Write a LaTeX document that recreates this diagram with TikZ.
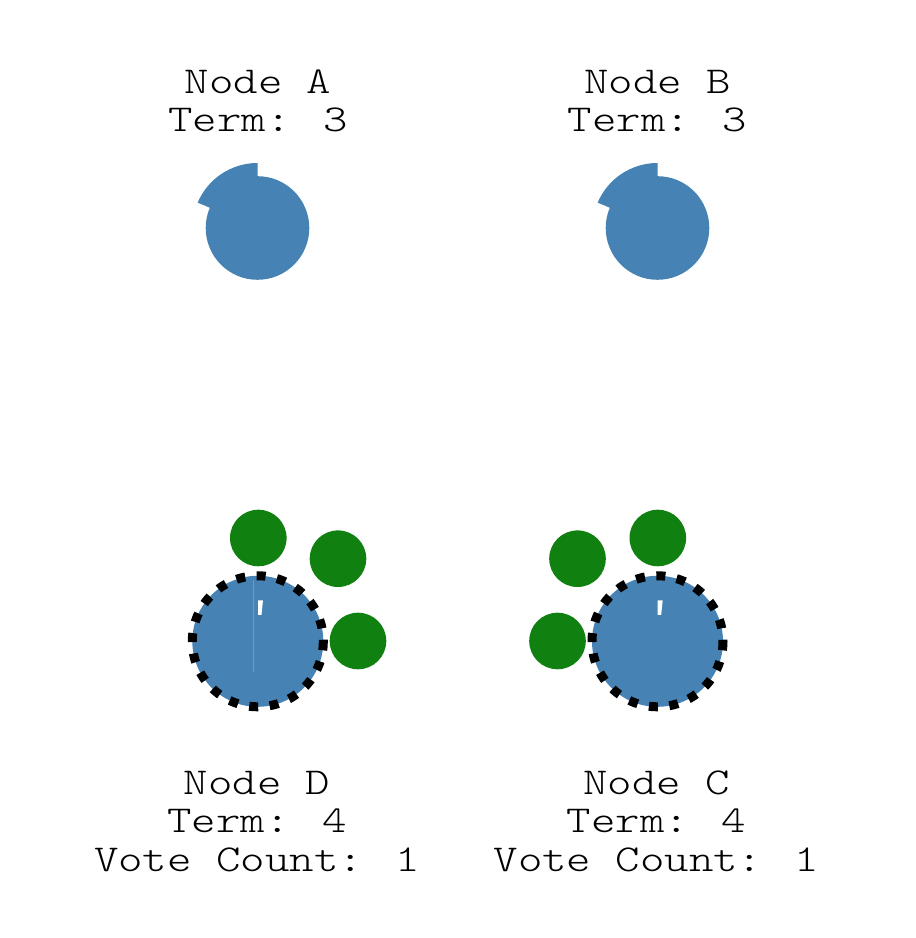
\documentclass[tikz,border=0pt]{standalone}
\usepackage{graphicx}
\usepackage{fontspec}
\newfontfamily\lbllight{Latin Modern Mono Light}
\definecolor{nodeblue}{RGB}{70,130,180}
\definecolor{votegreen}{RGB}{16,128,16}
\definecolor{seam}{RGB}{155,135,185}
\newcommand{\lbltxt}[1]{\scalebox{1.225}[1]{#1}}
\tikzset{
  lbl/.style={anchor=base, inner sep=0pt, font=\lbllight\fontsize{38}{38}\selectfont},
  nodefill/.style={fill=nodeblue},
  vote/.style={fill=votegreen},
  leaderring/.style={draw=black, line width=9pt, dash pattern=on 9pt off 11.5pt},
}
\begin{document}
\begin{tikzpicture}[x=1pt,y=1pt]
\useasboundingbox (0,0) rectangle (916,938);
% centres
\coordinate (A) at (257.5,710);
\coordinate (B) at (657.5,710);
\coordinate (D) at (257.8,296.7);
\coordinate (C) at (657.5,296.7);
% top nodes (followers with timer wedge)
\foreach \c in {A,B}{
  \fill[nodefill] (\c) circle[radius=51.8];
  \fill[nodefill] (\c) -- ++(90:65) arc[start angle=90,end angle=157,radius=65] -- cycle;
}
% votes
\fill[vote] (258.3,400) circle[radius=28.3];
\fill[vote] (338,379.3) circle[radius=28.3];
\fill[vote] (358,297) circle[radius=28.3];
\fill[vote] (657.8,400) circle[radius=28.3];
\fill[vote] (577.5,379.3) circle[radius=28.3];
\fill[vote] (557.5,297) circle[radius=28.3];
% candidates
\foreach \c in {D,C}{
  \fill[nodefill] (\c) circle[radius=65.5];
}
\draw[seam, line width=1pt] (253.3,358) -- (253.3,266);
\foreach \c in {D,C}{
  \draw[leaderring] (\c) ++(0:65.5) arc[start angle=0,end angle=-360,radius=65.5];
  \fill[white] (\c) ++(0.2,41) -- ++(5,0) -- ++(-1.5,-14.5) -- ++(-3.5,0) -- cycle;
}
% labels
\node[lbl] (la1) at (258,844.7) {\lbltxt{Node A}};
\node[lbl] (la2) at (258,806.3) {\lbltxt{Term: 3}};
\node[lbl] (lb1) at (657.5,844.7) {\lbltxt{Node B}};
\node[lbl] (lb2) at (657.5,806.3) {\lbltxt{Term: 3}};
\node[lbl] (ld1) at (257,143) {\lbltxt{Node D}};
\node[lbl] (ld2) at (257,105.3) {\lbltxt{Term: 4}};
\node[lbl] (ld3) at (257,66.3) {\lbltxt{Vote Count: 1}};
\node[lbl] (lc1) at (656.5,143) {\lbltxt{Node C}};
\node[lbl] (lc2) at (656.5,105.3) {\lbltxt{Term: 4}};
\node[lbl] (lc3) at (656.5,66.3) {\lbltxt{Vote Count: 1}};
\end{tikzpicture}
\end{document}
